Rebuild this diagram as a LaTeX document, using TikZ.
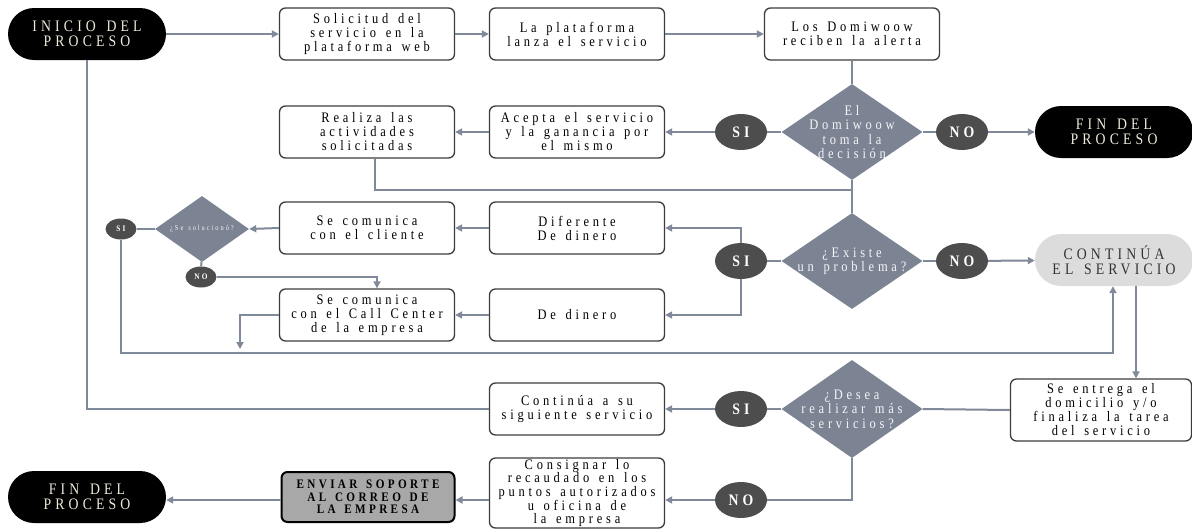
\documentclass[tikz,border=0pt]{standalone}
\usepackage{fontspec}
\setmainfont{Liberation Serif}[LetterSpace=26,WordSpace=1.4,FakeStretch=0.86]
\usetikzlibrary{shapes.geometric,arrows.meta}
\definecolor{lncol}{RGB}{128,137,153}
\definecolor{diacol}{RGB}{124,132,148}
\definecolor{circcol}{RGB}{77,77,77}
\definecolor{boxcol}{RGB}{60,60,60}
\definecolor{termtext}{RGB}{240,236,220}
\definecolor{contfill}{RGB}{220,220,220}
\definecolor{envfill}{RGB}{168,168,168}
\begin{document}
\begin{tikzpicture}[x=1pt,y=-1pt,
  every node/.style={font=\fontsize{14.5}{14}\selectfont},
  stepbox/.style={draw=boxcol,line width=1.3pt,rounded corners=6pt,fill=white,
    minimum width=175pt,minimum height=52pt,align=center,inner sep=1pt},
  term/.style={fill=black,text=termtext,rounded corners=26pt,minimum width=158pt,
    minimum height=52pt,align=center,inner sep=1pt,font=\fontsize{16}{15.5}\selectfont},
  dia/.style={diamond,fill=diacol,minimum width=141pt,minimum height=96pt,inner sep=0pt},
  diatext/.style={text=white!92!diacol,align=center,inner sep=0pt,font=\fontsize{14.5}{14.5}\selectfont},
  circ/.style={ellipse,fill=circcol,text=white,minimum width=52pt,minimum height=36pt,
    inner sep=0pt,font=\fontsize{16}{16}\selectfont\bfseries},
  smallcirc/.style={ellipse,fill=circcol,text=white,minimum width=31pt,minimum height=21pt,
    inner sep=0pt,font=\fontsize{8.5}{8.5}\selectfont\bfseries},
  ln/.style={draw=lncol,line width=2pt},
  arr/.style={ln,-{Triangle[length=7pt,width=7pt]}}]
\useasboundingbox (0,0) rectangle (1192,531);
% row 1
\node[term] (inicio) at (87,34) {INICIO DEL\\PROCESO};
\node[stepbox] (sol) at (367,34) {Solicitud del\\servicio en la\\plataforma web};
\node[stepbox] (plat) at (577,34) {La plataforma\\lanza el servicio};
\node[stepbox] (dom) at (852,34) {Los Domiwoow\\reciben la alerta};
% row 2
\node[dia] (d1) at (852,132) {};
\node[diatext] (d1t) at (d1) {El\\Domiwoow\\toma la\\decisión};
\node[circ] (no1) at (962,132) {NO};
\node[term] (fin1) at (1114,132) {FIN DEL\\PROCESO};
\node[circ] (si1) at (741,132) {SI};
\node[stepbox] (acepta) at (577,132) {Acepta el servicio\\y la ganancia por\\el mismo};
\node[stepbox] (realiza) at (367,132) {Realiza las\\actividades\\solicitadas};
% row 3
\node[dia] (d2) at (852,261) {};
\node[diatext] (d2t) at (d2) {¿Existe\\un problema?};
\node[circ] (no2) at (962,261) {NO};
\node[term,fill=contfill,text=black!80] (cont) at (1114,260) {CONTINÚA\\EL SERVICIO};
\node[circ] (si2) at (741,261) {SI};
\node[stepbox] (dif) at (577,228) {Diferente\\De dinero};
\node[stepbox] (dedin) at (577,315) {De dinero};
\node[stepbox] (cli) at (367,228) {Se comunica\\con el cliente};
\node[stepbox] (call) at (367,315) {Se comunica\\con el Call Center\\de la empresa};
\node[diamond,fill=diacol,minimum width=94pt,minimum height=66pt,inner sep=0pt] (d3) at (202,229) {};
\node[diatext,font=\fontsize{7.5}{7.5}\selectfont] (d3t) at (d3) {¿Se solucionó?};
\node[smallcirc] (si3) at (121,229) {SI};
\node[smallcirc] (no3) at (201,277) {NO};
\coordinate (callend) at (240,349);
\coordinate (j2) at (1113,353);
% row 4
\node[stepbox,minimum width=181pt,minimum height=62pt] (entrega) at (1101,410) {Se entrega el\\domicilio y/o\\finaliza la tarea\\del servicio};
\node[dia,minimum height=98pt] (d4) at (852,409) {};
\node[diatext] (d4t) at (d4) {¿Desea\\realizar más\\servicios?};
\node[circ] (si4) at (741,409) {SI};
\node[stepbox] (contsig) at (577,409) {Continúa a su\\siguiente servicio};
% row 5
\node[circ] (no4) at (741,500) {NO};
\node[stepbox,minimum height=70pt,font=\fontsize{14.5}{13.7}\selectfont] (consig) at (577,493) {Consignar lo\\recaudado en los\\puntos autorizados\\u oficina de\\la empresa};
\node[stepbox,fill=envfill,draw=black,line width=2pt,minimum width=173pt,minimum height=50pt,font=\fontsize{13}{12.6}\selectfont\bfseries] (enviar) at (368,497) {ENVIAR SOPORTE\\AL CORREO DE\\LA EMPRESA};
\node[term] (fin2) at (87,497) {FIN DEL\\PROCESO};
% connectors
\draw[arr] (inicio) -- (sol);
\draw[arr] (sol) -- (plat);
\draw[arr] (plat) -- (dom);
\draw[ln] (dom) -- (d1);
\draw[ln] (d1) -- (no1);
\draw[arr] (no1) -- (fin1);
\draw[ln] (d1) -- (si1);
\draw[arr] (si1) -- (acepta);
\draw[arr] (acepta) -- (realiza);
\coordinate (j1) at (852,190);
\draw[ln] ([xshift=8pt]realiza.south) |- (j1) -- (d2.north);
\draw[ln] (d1.south) -- (j1);
\draw[ln] (d2) -- (no2);
\draw[arr] (no2) -- (cont);
\draw[ln] (d2) -- (si2);
\draw[arr] (si2.north) |- (dif.east);
\draw[arr] (si2.south) |- (dedin.east);
\draw[arr] (dif) -- (cli);
\draw[arr] (dedin) -- (call);
\draw[arr] (cli.west) -- (d3.east);
\draw[ln] (d3) -- (si3);
\draw[ln] (d3) -- (no3);
\draw[arr] (no3.east) -| ([xshift=10pt]call.north);
\draw[arr] (call.west) -| (callend);
\draw[arr] (si3.south) |- (j2) -- (j2 |- cont.south);
\draw[arr] ([xshift=22pt]cont.south) -- ([xshift=22pt]cont.south |- entrega.north);
\draw[ln] (entrega.west) -- (d4.east);
\draw[ln] (d4) -- (si4);
\draw[arr] (si4) -- (contsig);
\draw[ln] (contsig.west) -| (inicio.south);
\draw[ln] (d4.south) |- (no4.east);
\draw[arr] (no4.west) -- (no4.west -| consig.east);
\draw[arr] (no4 -| consig.west) -- (no4 -| enviar.east);
\draw[arr] (no4 -| enviar.west) -- (no4 -| fin2.east);
\end{tikzpicture}
\end{document}
